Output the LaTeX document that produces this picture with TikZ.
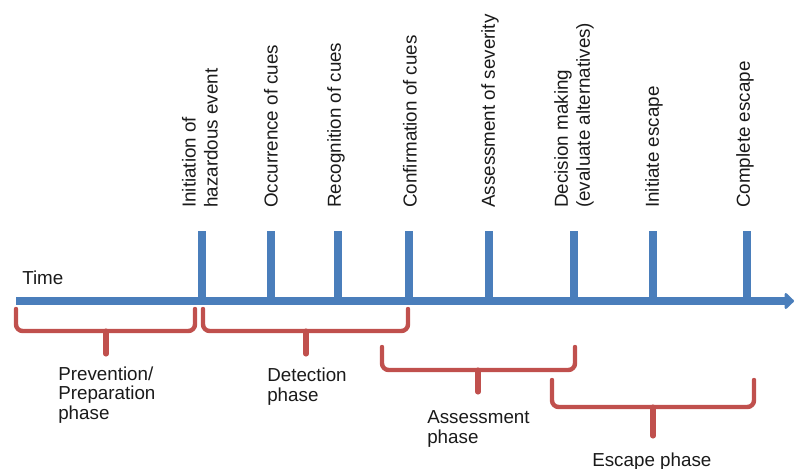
\documentclass[tikz,border=0pt]{standalone}
\usepackage{fontspec}
\setmainfont{Liberation Sans}
\usetikzlibrary{arrows.meta}
\definecolor{axisblue}{HTML}{4A7EBB}
\definecolor{bracered}{HTML}{C0504D}
\definecolor{txt}{HTML}{1A1A1A}
\begin{document}
\begin{tikzpicture}[x=0.75pt,y=-0.75pt,
  axis/.style={draw=axisblue,line width=5.8pt},
  tick/.style={draw=axisblue,line width=5.8pt},
  brace/.style={draw=bracered,line width=3.3pt,rounded corners=5pt,line cap=round},
  stem/.style={draw=bracered,line width=3.8pt,line cap=round},
  event/.style={rotate=90,anchor=west,inner sep=0pt,align=left,text=txt,font=\fontsize{14.1}{16.5}\selectfont},
  phase/.style={anchor=base west,inner sep=0pt,align=left,text=txt,font=\fontsize{14.1}{14.6}\selectfont}]
\useasboundingbox (0,0) rectangle (795,468);
% axis
\coordinate (a0) at (16,301);
\coordinate (a1) at (794,301);
\draw[axis,-{Triangle[length=7.5pt,width=14pt,round]}] (a0) -- (a1);
% ticks
\foreach \n/\x in {1/202,2/271,3/338,4/409,5/489,6/574,7/653,8/747}{
  \coordinate (t\n) at (\x,231);
  \coordinate (b\n) at (\x,301);
  \draw[tick] (t\n) -- (b\n);
}
% event labels
\node[event] (e1) at (200,208) {Initiation of\\hazardous event};
\node[event] (e2) at (271,208) {Occurrence of cues};
\node[event] (e3) at (336,208) {Recognition of cues};
\node[event] (e4) at (410,208) {Confirmation of cues};
\node[event] (e5) at (490,208) {Assessment of severity};
\node[event] (e6) at (574,208) {Decision making\\(evaluate alternatives)};
\node[event] (e7) at (654,208) {Initiate escape};
\node[event] (e8) at (745,208) {Complete escape};
\node[phase] (time) at (22,284) {Time};
% braces
\draw[brace] (16,309) -- (16,331) -- (195,331) -- (195,309);
\draw[stem] (106,331) -- (106,354);
\draw[brace] (203,309) -- (203,331) -- (408,331) -- (408,309);
\draw[stem] (306,331) -- (306,354);
\draw[brace] (382,347) -- (382,370) -- (575,370) -- (575,347);
\draw[stem] (478,370) -- (478,392);
\draw[brace] (552,380) -- (552,407) -- (754,407) -- (754,380);
\draw[stem] (653,407) -- (653,436);
% phase labels (anchored at the baseline of the last line)
\node[phase] (p1) at (58,419) {Prevention/\\Preparation\\phase};
\node[phase] (p2) at (267,401) {Detection\\phase};
\node[phase] (p3) at (427,443) {Assessment\\phase};
\node[phase] (p4) at (592,466) {Escape phase};
\end{tikzpicture}
\end{document}
